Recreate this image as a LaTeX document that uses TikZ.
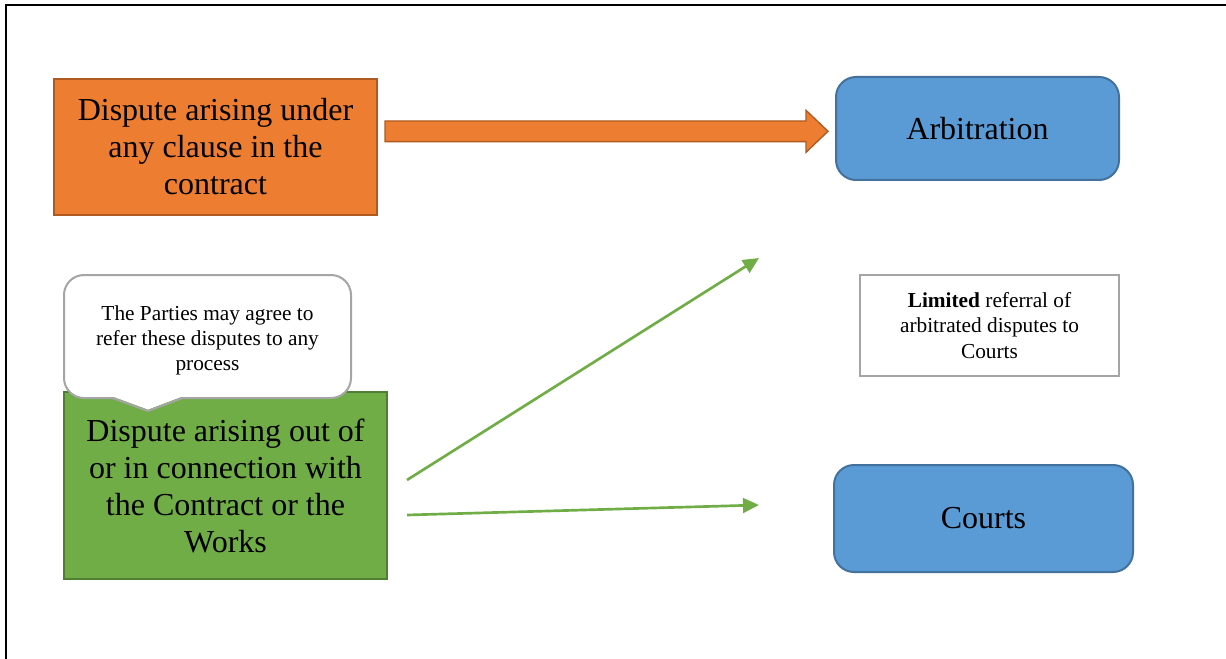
\documentclass[tikz,border=0pt]{standalone}
\usepackage{fontspec}
\setmainfont{Liberation Serif}
\usetikzlibrary{arrows.meta,calc}

\definecolor{orangefill}{HTML}{ED7D31}
\definecolor{orangeline}{HTML}{AE5A21}
\definecolor{bluefill}{HTML}{5B9BD5}
\definecolor{blueline}{HTML}{41719C}
\definecolor{greenfill}{HTML}{70AD47}
\definecolor{greenline}{HTML}{507E32}
\definecolor{greyline}{HTML}{A5A5A5}

\tikzset{
  bigtext/.style={font=\fontsize{24}{27.75}\selectfont, align=center},
  smalltext/.style={font=\fontsize{16}{19}\selectfont, align=center},
  box/.style={rectangle, inner sep=0pt, line width=1.5pt},
  orangebox/.style={box, bigtext, fill=orangefill, draw=orangeline},
  greenbox/.style={box, bigtext, fill=greenfill, draw=greenline},
  bluebox/.style={box, bigtext, fill=bluefill, draw=blueline, rounded corners=15pt},
  notebox/.style={box, smalltext, fill=white, draw=greyline, rounded corners=15pt},
  plainbox/.style={box, smalltext, fill=white, draw=greyline},
  flow/.style={draw=greenfill, line width=2pt, -{Triangle[length=12pt,width=11pt]}},
  blockarrow/.style={fill=orangefill, draw=orangeline, line width=1pt, line join=miter}
}

\begin{document}
\begin{tikzpicture}[x=0.75pt, y=-0.75pt]
  \useasboundingbox (0,0) rectangle (1226,659);

  % page frame (top and left edges)
  \draw[line width=1.6pt] (1226,5.3) -- (6.2,5.3) -- (6.2,659);

  % disputes under a clause and their route to arbitration
  \node[orangebox, minimum width=242.25pt, minimum height=102pt] (clause) at (215.5,147)
    {Dispute arising under\\any clause in the\\contract};
  \node[bluebox, minimum width=212.25pt, minimum height=77.25pt] (arb) at (977.5,128.5)
    {Arbitration};

  \coordinate (bs) at (385,131.3);
  \coordinate (bt) at (828,131.3);
  \draw[blockarrow] ($(bs)+(0,-10.3)$) -- ($(bt)+(-22,-10.3)$) -- ($(bt)+(-22,-21)$) -- (bt)
    -- ($(bt)+(-22,21)$) -- ($(bt)+(-22,10.3)$) -- ($(bs)+(0,10.3)$) -- cycle;

  % disputes out of or in connection with the contract
  \node[greenbox, minimum width=242.25pt, minimum height=140.25pt] (works) at (225.5,485.5)
    {Dispute arising out of\\or in connection with\\the Contract or the\\Works};

  % speech bubble above the green box
  \node[notebox, minimum width=215.25pt, minimum height=92.25pt] (note) at (207.5,336.5)
    {\raisebox{-3pt}[\height][\depth]{\begin{tabular}{@{}c@{}}The Parties may agree to\\refer these disputes to any\\process\end{tabular}}};
  \fill[white] (113,396.6) -- (148,409.6) -- (182,396.6) -- cycle;
  \draw[greyline, line width=1.5pt, line join=miter] (112,397.8) -- (148,411) -- (183,397.8);

  % remaining destinations
  \node[plainbox, minimum width=194.25pt, minimum height=75.75pt] (limited) at (989.5,325.5)
    {\textbf{Limited} referral of\\arbitrated disputes to\\Courts};
  \node[bluebox, minimum width=224.25pt, minimum height=80.25pt] (courts) at (983.5,518.5)
    {Courts};

  % green connectors
  \coordinate (up0) at (407,480);
  \coordinate (up1) at (759,258);
  \coordinate (rt0) at (407,515);
  \coordinate (rt1) at (759,505);
  \draw[flow] (up0) -- (up1);
  \draw[flow] (rt0) -- (rt1);
\end{tikzpicture}
\end{document}
